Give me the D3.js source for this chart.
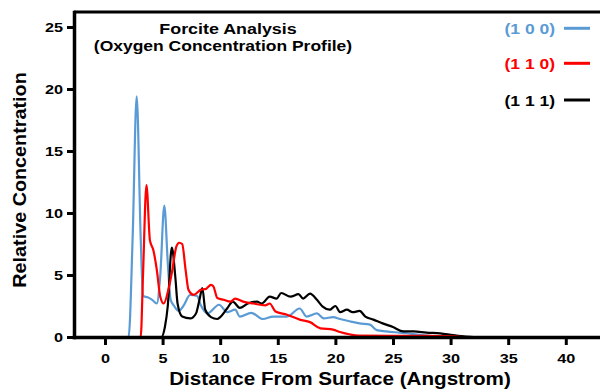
<!DOCTYPE html>
<html>
<head>
<meta charset="utf-8">
<script src="https://cdn.jsdelivr.net/npm/d3@7"></script>
<style>
  body { margin: 0; background: #fff; }
  svg { display: block; font-family: "Liberation Sans", Arial, sans-serif; font-weight: bold; }
</style>
</head>
<body>
<div id="chart"></div>
<script>
// distance (Angstrom), relative concentration
var series100 = [[0,0],[2.05,0],[2.4,8],[2.75,19.4],[3.1,8],[3.3,3.3],[3.7,3.2],[4.1,3.0],[4.5,2.7],[4.8,5],[5.15,10.6],[5.45,6],
  [5.7,3.0],[6.0,2.5],[6.4,2.1],[6.8,2.5],[7.4,3.4],[8.0,3.3],[8.3,2.6],[8.9,1.9],[9.9,2.6],[10.6,2.0],[11.3,2.2],[11.7,1.65],
  [12.7,1.95],[13.7,1.45],[14.6,1.65],[15.8,1.65],[16.9,2.3],[17.5,1.65],[18.4,1.9],[19.0,1.5],[19.8,1.6],[20.4,1.45],[21.3,1.25],
  [22.1,1.1],[23.0,1.0],[23.6,0.55],[24.4,0.45],[25.6,0.35],[26.2,0.3],[27.5,0.15],[28.5,0.05],[29.5,0],[43,0]];
var series110 = [[0,0],[3.1,0],[3.3,5],[3.6,12.25],[3.9,7.8],[4.2,7.0],[4.5,5.4],[4.8,3.25],[5.1,2.7],[5.5,3.8],[5.8,5.15],[6.2,7.3],
  [6.45,7.6],[6.7,7.5],[7.0,5.4],[7.25,3.8],[7.7,3.4],[8.3,3.8],[8.8,3.9],[9.2,4.2],[9.4,4.1],[9.75,3.15],[10.3,3.0],[10.9,2.85],
  [11.3,3.1],[12.0,2.85],[12.9,2.7],[13.9,2.55],[14.3,2.7],[14.8,2.05],[15.8,1.8],[16.9,1.4],[17.8,1.2],[18.7,0.7],[19.8,0.6],
  [20.4,0.4],[21.3,0.2],[22,0.12],[25,0.1],[28,0.1],[30.3,0.05],[31,0],[43,0]];
var series111 = [[0,0],[4.9,0],[5.2,0.8],[5.45,2.5],[5.8,7.2],[6.1,4.9],[6.3,2.7],[6.7,1.65],[7.4,1.5],[7.9,1.9],[8.2,3],[8.45,3.95],
  [8.7,2.2],[9.2,1.6],[9.75,1.45],[10.0,1.6],[10.6,2.3],[11.1,2.85],[11.7,2.35],[12.4,2.7],[13.2,2.85],[13.6,2.7],[14.3,3.25],
  [14.9,3.1],[15.3,3.55],[16.1,3.25],[16.8,3.45],[17.2,3.1],[17.8,3.5],[18.4,3.0],[18.9,2.45],[19.5,2.2],[20.0,2.5],[20.4,2.0],
  [21.0,2.2],[21.5,2.0],[22.1,2.1],[22.6,1.65],[23.3,1.4],[24.1,1.1],[25.0,0.8],[25.9,0.45],[26.8,0.45],[27.9,0.35],[29.1,0.3],
  [30.2,0.15],[31.3,0.03],[32,0],[43,0]];

var seriesNames = ["(1 0 0)", "(1 1 0)", "(1 1 1)"];
var seriesColors = ["#5b9bd5", "#ff0000", "#000000"];
var xTicks = [0, 5, 10, 15, 20, 25, 30, 35, 40];
var yTicks = [0, 5, 10, 15, 20, 25];

var width = 600, height = 392;
var sx = 1.25; // text in the picture is a bit wide

var svg = d3.select("#chart").append("svg")
  .attr("width", width).attr("height", height);

var x = d3.scaleLinear().domain([-2.69, 42.97]).range([74, 600]);
var y = d3.scaleLinear().domain([0, 26.2]).range([337, 12.1]);

function txt(str, px, py, size, k, anchor, color) {
  return svg.append("text")
    .attr("transform", "translate(" + px + "," + py + ") scale(" + k + ",1)")
    .attr("text-anchor", anchor)
    .attr("font-size", size)
    .attr("fill", color || "#000")
    .text(str);
}

// lines, red on top
var line = d3.line().x(d => x(d[0])).y(d => y(d[1])).curve(d3.curveMonotoneX);
var allSeries = [series100, series110, series111];
[0, 2, 1].forEach(function(i) {
  svg.append("path")
    .datum(allSeries[i])
    .attr("fill", "none")
    .attr("stroke", seriesColors[i])
    .attr("stroke-width", 2.2)
    .attr("stroke-linejoin", "round")
    .attr("d", line);
});

// axes
var yAxis = svg.append("g")
  .attr("transform", "translate(74,0)")
  .call(d3.axisLeft(y).tickValues(yTicks).tickSize(7).tickPadding(4).tickSizeOuter(0));
var xAxis = svg.append("g")
  .attr("transform", "translate(0,337)")
  .call(d3.axisBottom(x).tickValues(xTicks).tickSize(8).tickPadding(9).tickSizeOuter(0));

[yAxis, xAxis].forEach(function(a) {
  a.select(".domain").attr("stroke-width", 3.5).attr("stroke-linecap", "square");
  a.selectAll(".tick line").attr("stroke-width", 3);
  a.selectAll("text").attr("font-size", 13).attr("font-family", null).attr("fill", "#000");
});
yAxis.selectAll("text").attr("x", -11 / sx).attr("transform", "scale(" + sx + ",1)");
xAxis.selectAll("text").attr("transform", "scale(" + sx + ",1)");
yAxis.attr("font-family", null); xAxis.attr("font-family", null);

// top frame line
svg.append("line")
  .attr("x1", x.range()[0]).attr("x2", x.range()[1])
  .attr("y1", y.range()[1]).attr("y2", y.range()[1])
  .attr("stroke", "#000").attr("stroke-width", 3);

// titles
txt("Forcite Analysis", 228, 33.5, 14.3, sx, "middle");
txt("(Oxygen Concentration Profile)", 223, 51, 14, sx, "middle");
txt("Distance From Surface (Angstrom)", 340, 385, 17.5, 1.18, "middle");
svg.append("text")
  .attr("transform", "translate(26,180) rotate(-90) scale(1.1,1)")
  .attr("text-anchor", "middle")
  .attr("font-size", 18)
  .text("Relative Concentration");

// legend
var legY = [28.3, 63.3, 100];
seriesNames.forEach(function(name, i) {
  txt(name, 555, legY[i] + 5.5, 14, sx, "end", seriesColors[i]);
  svg.append("line")
    .attr("x1", 564).attr("x2", 590)
    .attr("y1", legY[i]).attr("y2", legY[i])
    .attr("stroke", seriesColors[i]).attr("stroke-width", 3);
});
</script>
</body>
</html>
